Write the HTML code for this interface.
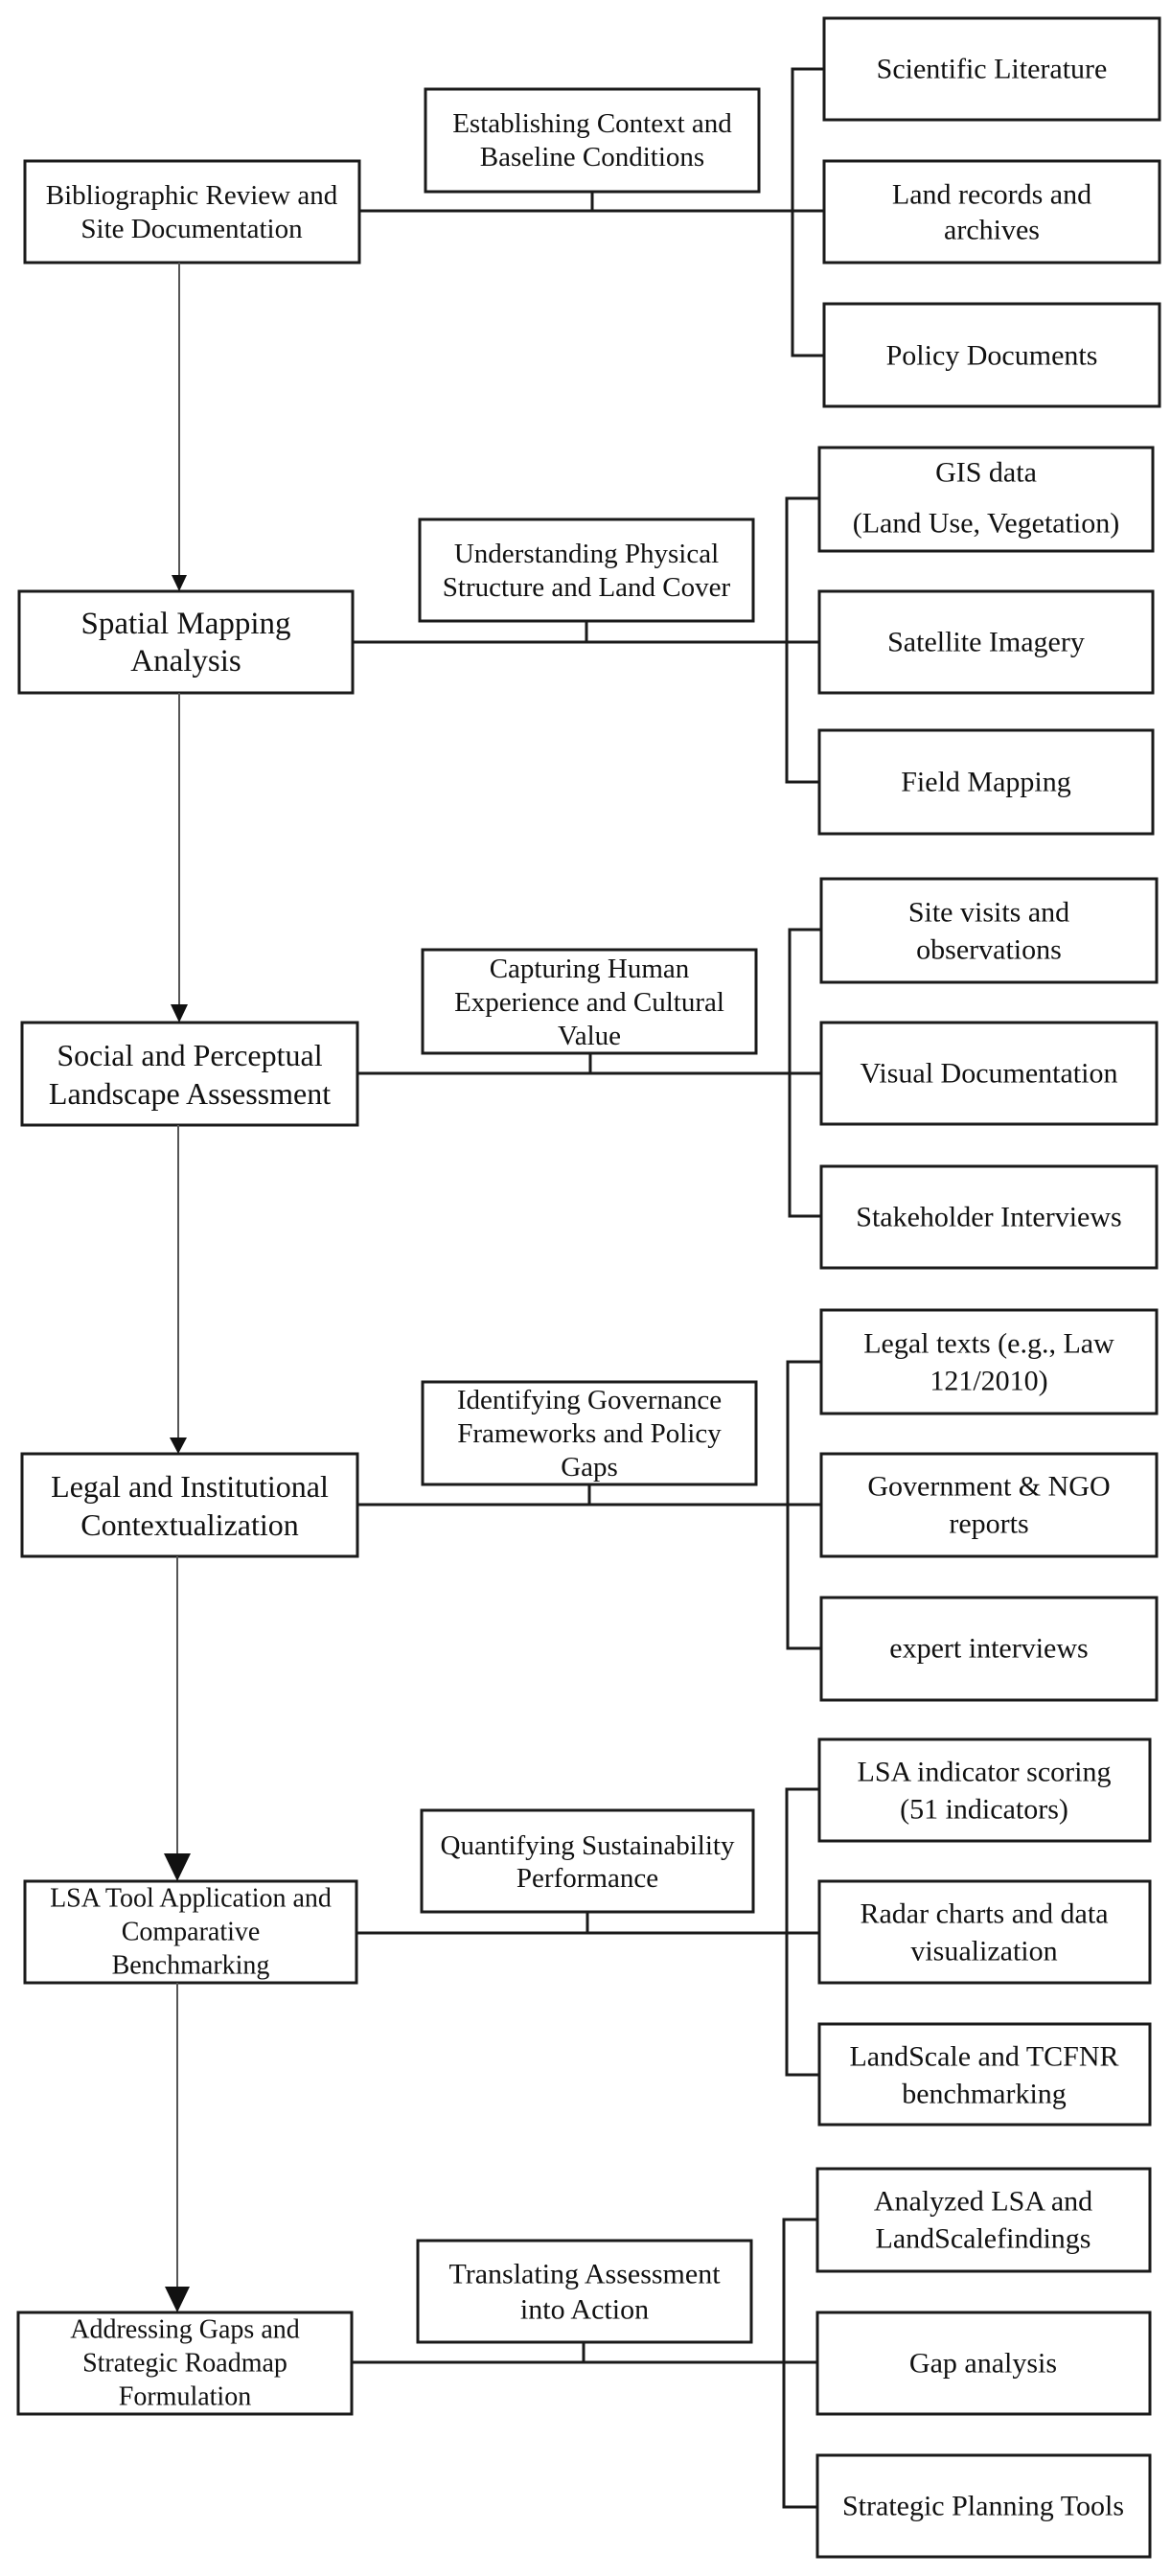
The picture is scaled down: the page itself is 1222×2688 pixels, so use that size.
<!DOCTYPE html>
<html><head><meta charset="utf-8"><style>
html,body{margin:0;padding:0;background:#fff;}
svg text{font-family:"Liberation Serif",serif;fill:#111;text-anchor:middle;dominant-baseline:central;}
</style></head><body>
<svg width="1222" height="2683" viewBox="0 0 1222 2683" xmlns="http://www.w3.org/2000/svg">
<g fill="#fff" stroke="#1a1a1a" stroke-width="3">
<!-- G1 -->
<rect x="26" y="168" width="349" height="106"/>
<rect x="444" y="93" width="348" height="107"/>
<rect x="860" y="19" width="350" height="106"/>
<rect x="860" y="168" width="350" height="106"/>
<rect x="860" y="317" width="350" height="107"/>
<!-- G2 -->
<rect x="20" y="617" width="348" height="106"/>
<rect x="438" y="542" width="348" height="106"/>
<rect x="855" y="467" width="348" height="108"/>
<rect x="855" y="617" width="348" height="106"/>
<rect x="855" y="762" width="348" height="108"/>
<!-- G3 -->
<rect x="23" y="1067" width="350" height="107"/>
<rect x="441" y="991" width="348" height="108"/>
<rect x="857" y="917" width="350" height="108"/>
<rect x="857" y="1067" width="350" height="106"/>
<rect x="857" y="1217" width="350" height="106"/>
<!-- G4 -->
<rect x="23" y="1517" width="350" height="107"/>
<rect x="441" y="1442" width="348" height="107"/>
<rect x="857" y="1367" width="350" height="108"/>
<rect x="857" y="1517" width="350" height="107"/>
<rect x="857" y="1667" width="350" height="107"/>
<!-- G5 -->
<rect x="26" y="1963" width="346" height="106"/>
<rect x="440" y="1889" width="346" height="106"/>
<rect x="855" y="1815" width="345" height="106"/>
<rect x="855" y="1963" width="345" height="106"/>
<rect x="855" y="2112" width="345" height="105"/>
<!-- G6 -->
<rect x="19" y="2413" width="348" height="106"/>
<rect x="436" y="2338" width="348" height="106"/>
<rect x="853" y="2263" width="347" height="107"/>
<rect x="853" y="2413" width="347" height="106"/>
<rect x="853" y="2562" width="347" height="106"/>
</g>
<g fill="none" stroke="#1a1a1a" stroke-width="3">
<!-- connectors -->
<path d="M375 220H860M618 200V220M860 72H827V371H860"/>
<path d="M368 670H855M612 648V670M855 520H821V816H855"/>
<path d="M373 1120H857M616 1099V1120M857 970H824V1269H857"/>
<path d="M373 1570H857M615 1549V1570M857 1421H822V1720H857"/>
<path d="M372 2017H855M613 1995V2017M855 1867H821V2165H855"/>
<path d="M367 2465H853M609 2444V2465M853 2316H818V2616H853"/>
</g>
<g stroke="#555" stroke-width="2" fill="none">
<path d="M187 274V602"/>
<path d="M187 723V1050"/>
<path d="M186 1174V1502"/>
<path d="M185 1624V1936"/>
<path d="M185 2069V2388"/>
</g>
<g fill="#111">
<polygon points="179,600 195,600 187,617"/>
<polygon points="178,1048 196,1048 187,1067"/>
<polygon points="177,1500 195,1500 186,1517"/>
<polygon points="171,1934 199,1934 185,1963"/>
<polygon points="172,2386 198,2386 185,2413"/>
</g>
<g font-size="29">
<!-- G1 -->
<text x="200" y="204">Bibliographic Review and</text><text x="200" y="239">Site Documentation</text>
<text x="618" y="129">Establishing Context and</text><text x="618" y="164">Baseline Conditions</text>
<text x="1035" y="72" font-size="30">Scientific Literature</text>
<text x="1035" y="203" font-size="30">Land records and</text><text x="1035" y="240" font-size="30">archives</text>
<text x="1035" y="371" font-size="30">Policy Documents</text>
<!-- G2 -->
<text x="194" y="651" font-size="33">Spatial Mapping</text><text x="194" y="690" font-size="33">Analysis</text>
<text x="612" y="578">Understanding Physical</text><text x="612" y="613">Structure and Land Cover</text>
<text x="1029" y="493" font-size="30">GIS data</text><text x="1029" y="546" font-size="30">(Land Use, Vegetation)</text>
<text x="1029" y="670" font-size="30">Satellite Imagery</text>
<text x="1029" y="816" font-size="30">Field Mapping</text>
<!-- G3 -->
<text x="198" y="1101" font-size="32">Social and Perceptual</text><text x="198" y="1141" font-size="32">Landscape Assessment</text>
<text x="615" y="1011">Capturing Human</text><text x="615" y="1046">Experience and Cultural</text><text x="615" y="1081">Value</text>
<text x="1032" y="952" font-size="30">Site visits and</text><text x="1032" y="991" font-size="30">observations</text>
<text x="1032" y="1120" font-size="30">Visual Documentation</text>
<text x="1032" y="1270" font-size="30">Stakeholder Interviews</text>
<!-- G4 -->
<text x="198" y="1551" font-size="32">Legal and Institutional</text><text x="198" y="1591" font-size="32">Contextualization</text>
<text x="615" y="1461">Identifying Governance</text><text x="615" y="1496">Frameworks and Policy</text><text x="615" y="1531">Gaps</text>
<text x="1032" y="1402" font-size="30">Legal texts (e.g., Law</text><text x="1032" y="1441" font-size="30">121/2010)</text>
<text x="1032" y="1551" font-size="30">Government &amp; NGO</text><text x="1032" y="1590" font-size="30">reports</text>
<text x="1032" y="1720" font-size="30">expert interviews</text>
<!-- G5 -->
<text x="199" y="1981" font-size="28">LSA Tool Application and</text><text x="199" y="2016" font-size="28">Comparative</text><text x="199" y="2051" font-size="28">Benchmarking</text>
<text x="613" y="1926">Quantifying Sustainability</text><text x="613" y="1960">Performance</text>
<text x="1027" y="1849" font-size="30">LSA indicator scoring</text><text x="1027" y="1888" font-size="30">(51 indicators)</text>
<text x="1027" y="1997" font-size="30">Radar charts and data</text><text x="1027" y="2036" font-size="30">visualization</text>
<text x="1027" y="2146" font-size="30">LandScale and TCFNR</text><text x="1027" y="2185" font-size="30">benchmarking</text>
<!-- G6 -->
<text x="193" y="2431" font-size="28">Addressing Gaps and</text><text x="193" y="2466" font-size="28">Strategic Roadmap</text><text x="193" y="2501" font-size="28">Formulation</text>
<text x="610" y="2373" font-size="30">Translating Assessment</text><text x="610" y="2410" font-size="30">into Action</text>
<text x="1026" y="2297" font-size="30">Analyzed LSA and</text><text x="1026" y="2336" font-size="30">LandScalefindings</text>
<text x="1026" y="2466" font-size="30">Gap analysis</text>
<text x="1026" y="2615" font-size="30">Strategic Planning Tools</text>
</g>
</svg>
</body></html>
